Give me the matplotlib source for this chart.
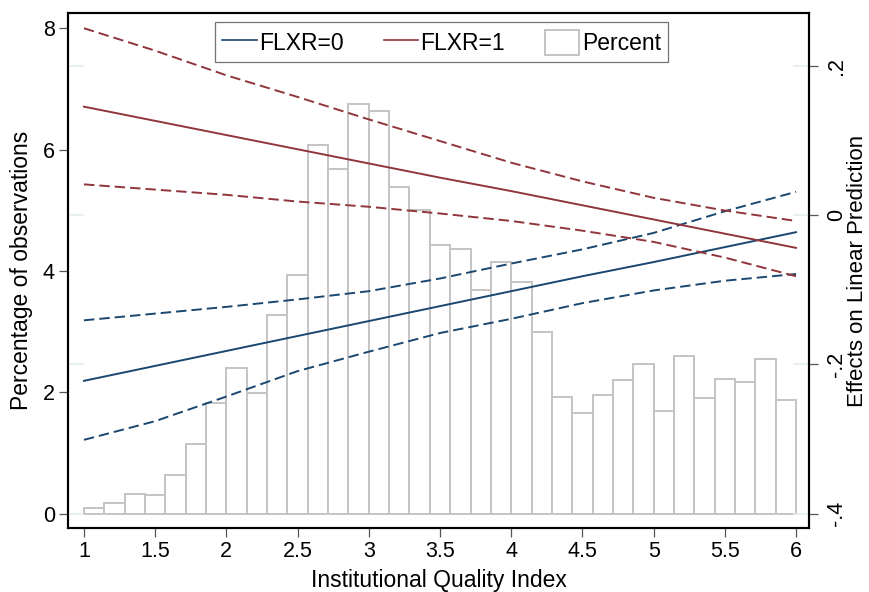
import matplotlib
matplotlib.use("Agg")
import matplotlib.pyplot as plt
import numpy as np
from matplotlib.lines import Line2D
from matplotlib.patches import Patch

plt.rcParams["font.family"] = ["Liberation Sans", "DejaVu Sans"]
plt.rcParams["lines.scale_dashes"] = False

# histogram: percent of observations per bin (35 bins from 1 to 6)
bin_lo, bin_hi, n_bins = 1.0, 6.0, 35
pct = [0.09, 0.18, 0.33, 0.30, 0.63, 1.15, 1.82, 2.40, 1.99, 3.28,
       3.94, 6.08, 5.68, 6.75, 6.63, 5.39, 5.01, 4.42, 4.36, 3.69,
       4.15, 3.82, 2.99, 1.93, 1.66, 1.96, 2.21, 2.46, 1.70, 2.59,
       1.91, 2.22, 2.17, 2.55, 1.88]

# margins (effects on linear prediction) with 95% CI
iqi = [1.0, 1.5, 2.0, 2.5, 3.0, 3.5, 4.0, 4.5, 5.0, 5.5, 6.0]
fx0 = [-0.222, -0.202, -0.182, -0.162, -0.142, -0.122, -0.102, -0.082, -0.063, -0.043, -0.023]
fx0_hi = [-0.141, -0.132, -0.123, -0.113, -0.102, -0.085, -0.065, -0.046, -0.024, 0.005, 0.031]
fx0_lo = [-0.301, -0.276, -0.243, -0.209, -0.183, -0.158, -0.139, -0.118, -0.101, -0.088, -0.079]
fx1 = [0.145, 0.126, 0.107, 0.088, 0.069, 0.050, 0.032, 0.013, -0.006, -0.025, -0.044]
fx1_hi = [0.250, 0.220, 0.187, 0.158, 0.128, 0.099, 0.070, 0.045, 0.023, 0.006, -0.008]
fx1_lo = [0.041, 0.034, 0.027, 0.018, 0.011, 0.002, -0.008, -0.021, -0.036, -0.057, -0.082]

xticks = [1, 1.5, 2, 2.5, 3, 3.5, 4, 4.5, 5, 5.5, 6]
xticklabels = ["1", "1.5", "2", "2.5", "3", "3.5", "4", "4.5", "5", "5.5", "6"]
yticks_l = [0, 2, 4, 6, 8]
yticks_r = [-0.4, -0.2, 0, 0.2]
yticklabels_r = ["-.4", "-.2", "0", ".2"]

BLUE = "#1a476f"
RED = "#90353b"
BAR_EDGE = "#c4c4c4"
TICK_C = "#555555"
STUB_C = "#e3ecef"

fig = plt.figure(figsize=(8.69, 5.92), dpi=100)
ax = fig.add_axes([68 / 869, 1 - 528 / 592, 741 / 869, 515 / 592])
ax2 = ax.twinx()

edges = np.linspace(bin_lo, bin_hi, n_bins + 1)
ax.bar(edges[:-1], pct, width=np.diff(edges), align="edge",
       facecolor="white", edgecolor=BAR_EDGE, linewidth=1.4)

# faint stubs at the right-axis tick levels on both sides of the plot region
ytr = ax2.get_yaxis_transform()
for v in yticks_r:
    ax2.plot([0.0, 0.02], [v, v], color=STUB_C, lw=1.2, transform=ytr)
    ax2.plot([0.98, 1.0], [v, v], color=STUB_C, lw=1.2, transform=ytr)

dash = (7.5, 3.6)
ax2.plot(iqi, fx0, color=BLUE, lw=1.4)
ax2.plot(iqi, fx0_hi, color=BLUE, lw=1.4, dashes=dash)
ax2.plot(iqi, fx0_lo, color=BLUE, lw=1.4, dashes=dash)
ax2.plot(iqi, fx1, color=RED, lw=1.4)
ax2.plot(iqi, fx1_hi, color=RED, lw=1.4, dashes=dash)
ax2.plot(iqi, fx1_lo, color=RED, lw=1.4, dashes=dash)

ax.set_xlim(0.888, 6.091)
ax.set_ylim(-0.236, 8.25)
ax2.set_ylim(-0.419, 0.2704)

ax.set_xticks(xticks)
ax.set_xticklabels(xticklabels)
ax.set_yticks(yticks_l)
ax2.set_yticks(yticks_r)
ax2.set_yticklabels(yticklabels_r)

for a in (ax, ax2):
    for s in a.spines.values():
        s.set_linewidth(1.5)
        s.set_color("black")
ax.tick_params(axis="both", length=6.5, width=0.9, color=TICK_C, labelsize=15.5, pad=3)
ax2.tick_params(axis="y", length=6.5, width=0.9, color=TICK_C, labelsize=15.5,
                pad=6, labelrotation=90)
for lbl in ax2.get_yticklabels():
    lbl.set_verticalalignment("center")

ax.set_xlabel("Institutional Quality Index", fontsize=16.5)
ax.xaxis.set_label_coords(0.5, -0.079)
ax.set_ylabel("Percentage of observations", fontsize=16.5)
ax.yaxis.set_label_coords(-0.047, 0.5)
ax2.set_ylabel("Effects on Linear Prediction", fontsize=16)
ax2.yaxis.set_label_coords(1.051, 0.5)

handles = [Line2D([], [], color=BLUE, lw=1.2),
           Line2D([], [], color=RED, lw=1.2),
           Patch(facecolor="white", edgecolor=BAR_EDGE, linewidth=1.4)]
leg = ax2.legend(handles, ["FLXR=0", "FLXR=1", "Percent"], ncol=3,
                 loc="upper center", bbox_to_anchor=(0.504, 0.9825),
                 borderaxespad=0, fontsize=16.5, frameon=True, fancybox=False,
                 handlelength=1.5, handleheight=1.3, handletextpad=0.1,
                 columnspacing=1.75, borderpad=0.33)
leg.get_frame().set_edgecolor("#505050")
leg.get_frame().set_linewidth(0.9)

fig.savefig("out.png", dpi=100)
